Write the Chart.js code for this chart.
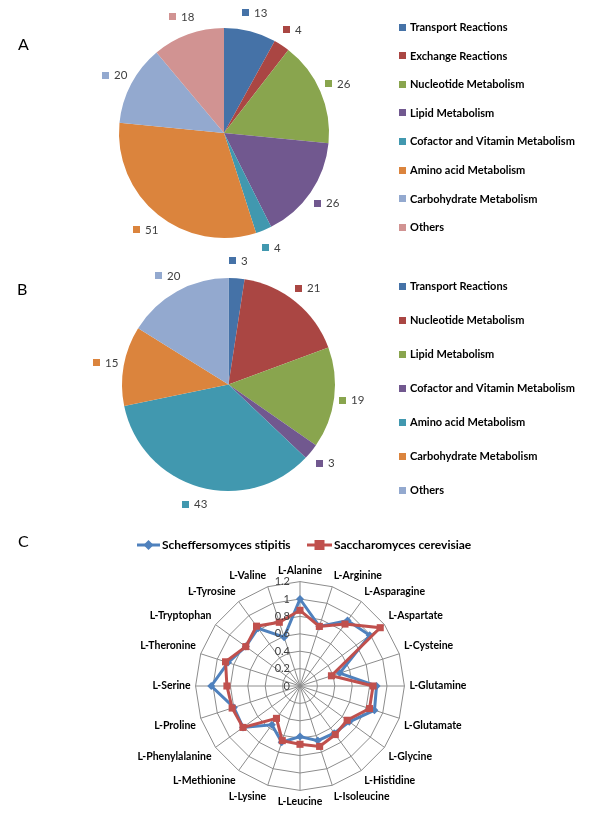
<!DOCTYPE html>
<html>
<head>
<meta charset="utf-8">
<script src="https://cdn.jsdelivr.net/npm/chart.js@4.4.0/dist/chart.umd.min.js"></script>
<style>
  html, body { margin: 0; padding: 0; background: #fff; }
  body { width: 600px; height: 824px; position: relative; overflow: hidden; }
  canvas { position: absolute; left: 0; }
</style>
</head>
<body>
<canvas id="pieA" width="600" height="262" style="top:0"></canvas>
<canvas id="pieB" width="600" height="265" style="top:250px"></canvas>
<canvas id="radarC" width="600" height="309" style="top:515px"></canvas>
<script>
// Panel A - reaction categories
const labelsA = ['Transport Reactions', 'Exchange Reactions', 'Nucleotide Metabolism', 'Lipid Metabolism',
  'Cofactor and Vitamin Metabolism', 'Amino acid Metabolism', 'Carbohydrate Metabolism', 'Others'];
const valuesA = [13, 4, 26, 26, 4, 51, 20, 18];

// Panel B
const labelsB = ['Transport Reactions', 'Nucleotide Metabolism', 'Lipid Metabolism',
  'Cofactor and Vitamin Metabolism', 'Amino acid Metabolism', 'Carbohydrate Metabolism', 'Others'];
const valuesB = [3, 21, 19, 3, 43, 15, 20];

// Panel C - amino acids radar
const aminoAcids = ['L-Alanine', 'L-Arginine', 'L-Asparagine', 'L-Aspartate', 'L-Cysteine', 'L-Glutamine',
  'L-Glutamate', 'L-Glycine', 'L-Histidine', 'L-Isoleucine', 'L-Leucine', 'L-Lysine', 'L-Methionine',
  'L-Phenylalanine', 'L-Proline', 'L-Serine', 'L-Theronine', 'L-Tryptophan', 'L-Tyrosine', 'L-Valine'];
const stipitis = [1.00, 0.72, 0.93, 0.99, 0.48, 0.88, 0.90, 0.70, 0.67, 0.66,
  0.58, 0.68, 0.55, 0.81, 0.80, 1.02, 0.87, 0.77, 0.82, 0.59];
const cerevisiae = [0.87, 0.72, 0.88, 1.14, 0.38, 0.84, 0.84, 0.67, 0.69, 0.73,
  0.67, 0.66, 0.46, 0.81, 0.82, 0.84, 0.90, 0.77, 0.85, 0.77];
const radarTicks = [0, 0.2, 0.4, 0.6, 0.8, 1, 1.2];

const paletteA = ['#4572A7', '#AA4643', '#89A54E', '#71588F', '#4198AF', '#DB843D', '#93A9CF', '#D19392'];
const paletteB = ['#4572A7', '#AA4643', '#89A54E', '#71588F', '#4198AF', '#DB843D', '#93A9CF'];
const FONT = 'Lato, "Open Sans", sans-serif';

// value labels outside each slice: coloured square + number
const pieLabels = {
  id: 'pieLabels',
  afterDatasetsDraw(chart, args, opts) {
    const ctx = chart.ctx;
    const ds = chart.data.datasets[0];
    ctx.save();
    ctx.font = '11.5px ' + FONT;
    ctx.textBaseline = 'middle';
    ctx.textAlign = 'left';
    chart.getDatasetMeta(0).data.forEach((arc, i) => {
      const p = arc.getProps(['x', 'y', 'startAngle', 'endAngle', 'outerRadius'], true);
      const mid = (p.startAngle + p.endAngle) / 2;
      const d = p.outerRadius + opts.offset;
      const cx = p.x + Math.cos(mid) * d;
      const cy = p.y + Math.sin(mid) * d;
      const txt = String(ds.data[i]);
      const w = 12 + ctx.measureText(txt).width;
      const x0 = Math.round(cx - w / 2);
      ctx.fillStyle = ds.backgroundColor[i];
      ctx.fillRect(x0, Math.round(cy - 3.5), 7, 7);
      ctx.fillStyle = '#404040';
      ctx.fillText(txt, x0 + 12, cy + 0.5);
    });
    ctx.restore();
  }
};

// legend at the right + panel letter
const sideLegend = {
  id: 'sideLegend',
  afterDraw(chart, args, opts) {
    const ctx = chart.ctx;
    const ds = chart.data.datasets[0];
    ctx.save();
    ctx.textBaseline = 'middle';
    ctx.textAlign = 'left';
    ctx.font = 'bold 11px ' + FONT;
    chart.data.labels.forEach((lab, i) => {
      const y = opts.y + i * opts.step;
      ctx.fillStyle = ds.backgroundColor[i];
      ctx.fillRect(opts.x, Math.round(y - 3.5), 7, 7);
      ctx.fillStyle = '#000';
      ctx.fillText(lab, opts.x + 11, y + 0.5);
    });
    ctx.textBaseline = 'alphabetic';
    ctx.font = '16px ' + FONT;
    ctx.fillText(opts.tag, opts.tagX, opts.tagY);
    ctx.restore();
  }
};

function makePie(id, labels, values, colors, padding, legend, offset) {
  return new Chart(document.getElementById(id), {
    type: 'pie',
    data: {
      labels,
      datasets: [{
        data: values,
        backgroundColor: colors,
        borderWidth: 0,
        hoverOffset: 0,
        offset: 0
      }]
    },
    options: {
      responsive: false,
      animation: false,
      layout: { padding },
      plugins: {
        legend: { display: false },
        tooltip: { enabled: false },
        pieLabels: { offset },
        sideLegend: legend
      }
    },
    plugins: [pieLabels, sideLegend]
  });
}

makePie('pieA', labelsA, valuesA, paletteA,
  { left: 119, right: 271, top: 28, bottom: 24 },
  { x: 399, y: 27, step: 28.6, tag: 'A', tagX: 18, tagY: 50 }, 19);

makePie('pieB', labelsB, valuesB, paletteB,
  { left: 122, right: 265, top: 28, bottom: 24 },
  { x: 399, y: 36, step: 34, tag: 'B', tagX: 17, tagY: 45 }, 18);

// radar: tick labels left of the vertical axis, series legend on top
const radarExtras = {
  id: 'radarExtras',
  afterDraw(chart, args, opts) {
    const ctx = chart.ctx;
    const r = chart.scales.r;
    ctx.save();
    ctx.font = '11px ' + FONT;
    ctx.fillStyle = '#404040';
    ctx.textAlign = 'right';
    ctx.textBaseline = 'middle';
    radarTicks.forEach(v => {
      ctx.fillText(String(v), r.xCenter - 10, r.yCenter - r.getDistanceFromCenterForValue(v));
    });

    // legend
    ctx.textAlign = 'left';
    ctx.font = 'bold 12px ' + FONT;
    chart.data.datasets.forEach((ds, i) => {
      const it = opts.items[i];
      const y = opts.y;
      ctx.strokeStyle = ds.borderColor;
      ctx.lineWidth = 3;
      ctx.beginPath();
      ctx.moveTo(it.x, y);
      ctx.lineTo(it.x + it.len, y);
      ctx.stroke();
      ctx.fillStyle = ds.borderColor;
      const mx = it.x + it.len / 2;
      const s = ds.pointRadius;
      ctx.beginPath();
      if (ds.pointStyle === 'rect') {
        ctx.rect(mx - s, y - s, 2 * s, 2 * s);
      } else {
        ctx.moveTo(mx, y - s - 1); ctx.lineTo(mx + s + 1, y); ctx.lineTo(mx, y + s + 1); ctx.lineTo(mx - s - 1, y);
        ctx.closePath();
      }
      ctx.fill();
      ctx.fillStyle = '#000';
      ctx.fillText(ds.label, it.x + it.len + 2, y + 0.5);
    });

    ctx.font = '16px ' + FONT;
    ctx.fillText('C', 18, 27);
    ctx.restore();
  }
};

new Chart(document.getElementById('radarC'), {
  type: 'radar',
  data: {
    labels: aminoAcids,
    datasets: [{
      label: 'Scheffersomyces stipitis',
      data: stipitis,
      borderColor: '#4F81BD',
      backgroundColor: '#4F81BD',
      borderWidth: 3,
      pointStyle: 'rectRot',
      pointRadius: 4,
      pointBorderWidth: 0,
      fill: false,
      order: 1
    }, {
      label: 'Saccharomyces cerevisiae',
      data: cerevisiae,
      borderColor: '#C0504D',
      backgroundColor: '#C0504D',
      borderWidth: 3,
      pointStyle: 'rect',
      pointRadius: 5,
      pointBorderWidth: 0,
      fill: false,
      order: 0
    }]
  },
  options: {
    responsive: false,
    animation: false,
    layout: { padding: { top: 50, bottom: 15, left: 0, right: 0 } },
    elements: { line: { tension: 0 } },
    plugins: {
      legend: { display: false },
      tooltip: { enabled: false },
      radarExtras: {
        y: 30,
        items: [{ x: 137, len: 23 }, { x: 307, len: 25 }]
      }
    },
    scales: {
      r: {
        min: 0,
        max: 1.2,
        ticks: { stepSize: 0.2, display: false },
        grid: { color: '#8c8c8c', circular: false, lineWidth: 1 },
        angleLines: { color: '#8c8c8c', lineWidth: 1 },
        pointLabels: {
          color: '#000',
          padding: 5,
          font: { family: FONT, size: 10.5, weight: 'bold' }
        }
      }
    }
  },
  plugins: [radarExtras]
});
</script>
</body>
</html>
